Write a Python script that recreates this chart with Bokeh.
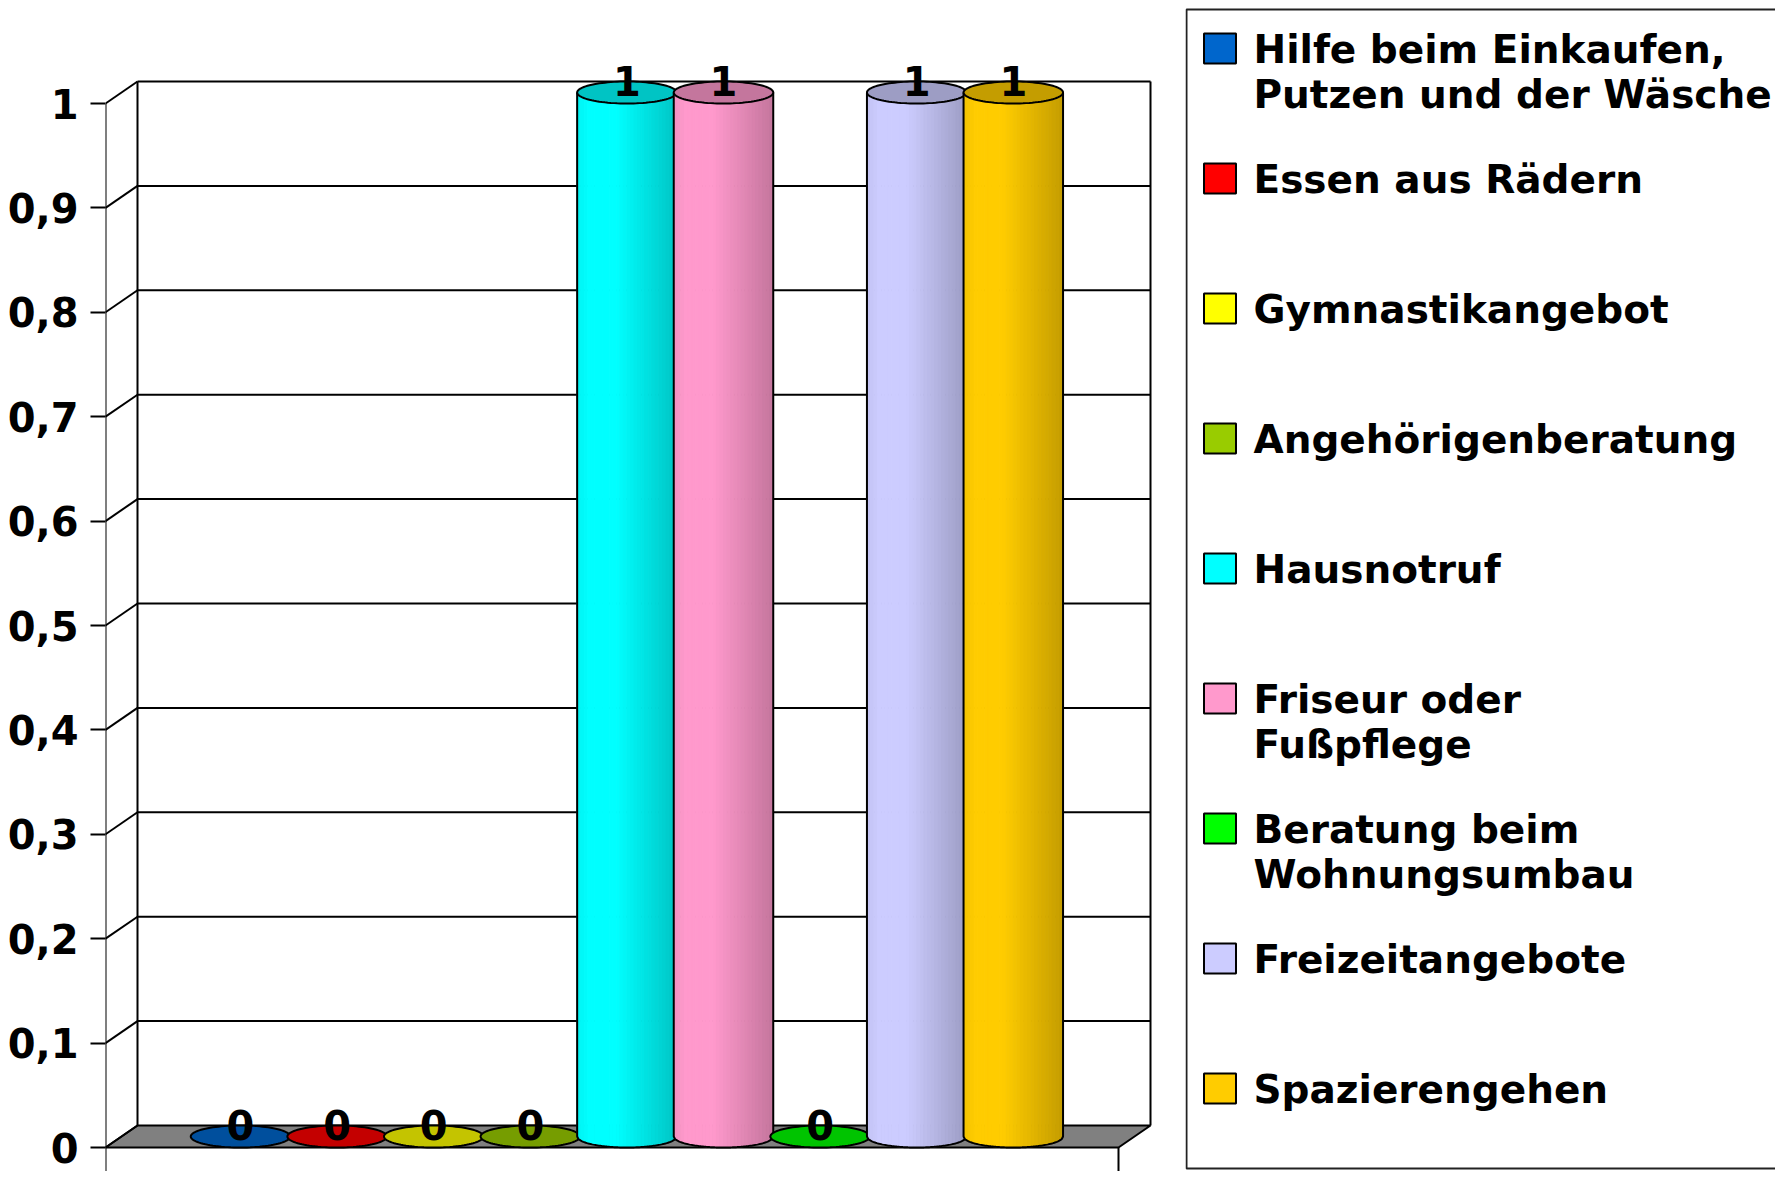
import numpy as np
from bokeh.plotting import figure
from bokeh.models import Range1d, FixedTicker
from bokeh.layouts import row
from bokeh.embed import file_html
from bokeh.resources import INLINE
from bokeh.core.properties import value

# ---------------- data ----------------
categories = [
    "Hilfe beim Einkaufen,\nPutzen und der Wäsche",
    "Essen aus Rädern",
    "Gymnastikangebot",
    "Angehörigenberatung",
    "Hausnotruf",
    "Friseur oder\nFußpflege",
    "Beratung beim\nWohnungsumbau",
    "Freizeitangebote",
    "Spazierengehen",
]
values = [0, 0, 0, 0, 1, 1, 0, 1, 1]
colors = ["#0066CC", "#FF0000", "#FFFF00", "#99CC00", "#00FFFF",
          "#FF99CC", "#00FF00", "#CCCCFF", "#FFCC00"]
y_ticks = [0.0, 0.1, 0.2, 0.3, 0.4, 0.5, 0.6, 0.7, 0.8, 0.9, 1.0]
y_tick_labels = ["0", "0,1", "0,2", "0,3", "0,4", "0,5", "0,6", "0,7", "0,8", "0,9", "1"]

# ---------------- geometry / style ----------------
FONT = "DejaVu Sans"
W_MAIN, W_LEG, H = 1185, 590, 1171
LEFT = 105
Y0_PX = 1147         # canvas y of value 0 (front)
PX_X = 96.6          # pixels per category
PX_Y = 1044.0        # pixels per value unit
DX = 32 / PX_X       # depth offset (x)
DY = 22 / PX_Y       # depth offset (y)
FLOOR_W = 1013 / PX_X
FIRST = 135 / PX_X   # centre of first cylinder
BAR_W = 1.03
ELL_H = DY / 2
TOP_F = 0.77
LABEL_RAISE = 12     # px above ellipse centre for value-label baseline


def shade(hexcol, f):
    r, g, b = (int(hexcol[k:k + 2], 16) for k in (1, 3, 5))
    return "#%02x%02x%02x" % tuple(max(0, min(255, int(round(ch * f)))) for ch in (r, g, b))


def light(t):
    if t < -0.75:
        return 0.95 + 0.2 * (t + 1)
    if t < -0.2:
        return 1.0
    return 1.0 - 0.23 * (t + 0.2) / 1.2


p = figure(width=W_MAIN, height=H, output_backend="svg", toolbar_location=None, title=None,
           x_range=Range1d(0, (W_MAIN - LEFT) / PX_X),
           y_range=Range1d((Y0_PX - H) / PX_Y, Y0_PX / PX_Y),
           x_axis_location=None, y_axis_location="left",
           min_border_left=LEFT, min_border_right=0, min_border_top=0, min_border_bottom=0)
p.grid.visible = False
p.outline_line_color = None
p.background_fill_color = "white"
p.border_fill_color = "white"

ax = p.yaxis[0]
ax.ticker = FixedTicker(ticks=y_ticks)
ax.major_label_overrides = {t: l for t, l in zip(y_ticks, y_tick_labels)}
ax.axis_line_color = None
ax.major_tick_out = 15
ax.major_tick_in = 0
ax.major_tick_line_width = 2
ax.major_tick_line_color = "black"
ax.minor_tick_line_color = None
ax.major_label_standoff = 12
ax.major_label_text_font = FONT
ax.major_label_text_font_style = "bold"
ax.major_label_text_font_size = "40px"
ax.major_label_text_color = "black"

# floor
p.patch(x=[0, FLOOR_W, FLOOR_W + DX, DX], y=[0, 0, DY, DY],
        fill_color="#808080", line_color="black", line_width=2)

# walls & grid
gx, gy = [], []
for t in y_ticks:
    if t > 0:
        gx.append([DX, FLOOR_W + DX])
        gy.append([t + DY, t + DY])
    gx.append([0, DX])
    gy.append([t, t + DY])
gx.append([DX, DX]); gy.append([DY, 1 + DY])
gx.append([FLOOR_W + DX, FLOOR_W + DX]); gy.append([DY, 1 + DY])
gx.append([0, 0]); gy.append([-0.03, 1.0])
gx.append([FLOOR_W, FLOOR_W]); gy.append([-0.03, 0])
p.multi_line(xs=gx, ys=gy, line_color="black", line_width=2)

# cylinders
NS = 28
theta = np.linspace(0, 2 * np.pi, 97)
a = BAR_W / 2
base = ELL_H
for i, (v, col) in enumerate(zip(values, colors)):
    c = FIRST + i
    top = v + ELL_H
    if v > 0:
        edges = np.linspace(c - a, c + a, NS + 1)
        bxs, bys, bcs = [], [], []
        for k in range(NS):
            x0, x1 = edges[k], edges[k + 1]
            xx = np.linspace(x0, x1, 4)
            tt = (xx - c) / a
            yb = base - ELL_H * np.sqrt(np.clip(1 - tt ** 2, 0, 1))
            bxs.append([x0, x1] + list(xx[::-1]))
            bys.append([top, top] + list(yb[::-1]))
            bcs.append(shade(col, light(((x0 + x1) / 2 - c) / a)))
        p.patches(xs=bxs, ys=bys, fill_color=bcs, line_color=bcs, line_width=1)
        xx = np.linspace(c - a, c + a, 81)
        tt = (xx - c) / a
        yb = base - ELL_H * np.sqrt(np.clip(1 - tt ** 2, 0, 1))
        p.line(x=[c - a] + list(xx) + [c + a], y=[top] + list(yb) + [top],
               line_color="black", line_width=2)
    p.patch(x=list(c + a * np.cos(theta)), y=list(top + ELL_H * np.sin(theta)),
            fill_color=shade(col, TOP_F), line_color="black", line_width=2)

# value labels
p.text(x=[FIRST + i for i in range(len(values))],
       y=[v + ELL_H + LABEL_RAISE / PX_Y for v in values],
       text=[str(v) for v in values],
       text_align="center", text_baseline="alphabetic",
       text_font=value(FONT), text_font_style="bold", text_font_size="40px",
       text_color="black")

# ---------------- legend ----------------
lg = figure(width=W_LEG, height=H, output_backend="svg", toolbar_location=None, title=None,
            x_range=Range1d(0, W_LEG), y_range=Range1d(H, 0),
            x_axis_location=None, y_axis_location=None, min_border=0)
lg.grid.visible = False
lg.outline_line_color = None
lg.background_fill_color = "white"
lg.border_fill_color = "white"

lg.line(x=[W_LEG + 20, 1, 1, W_LEG + 20], y=[9, 9, H - 3, H - 3],
        line_color="#222222", line_width=2)

LEG_TOP, LEG_STEP, LINE_STEP = 48, 130, 45
rows_y = [LEG_TOP + k * LEG_STEP for k in range(len(categories))]
lg.rect(x=[34.5] * len(categories), y=rows_y, width=32, height=30,
        fill_color=colors, line_color="black", line_width=2)
tx, ty, tt_ = [], [], []
for yc, lab in zip(rows_y, categories):
    for j, line in enumerate(lab.split("\n")):
        tx.append(68)
        ty.append(yc + 1 + j * LINE_STEP)
        tt_.append(line)
lg.text(x=tx, y=ty, text=tt_, text_align="left", text_baseline="alphabetic",
        text_font=value(FONT), text_font_style="bold", text_font_size="39px",
        text_color="black")

layout = row(p, lg)
open("out.html", "w").write(file_html(layout, INLINE))
